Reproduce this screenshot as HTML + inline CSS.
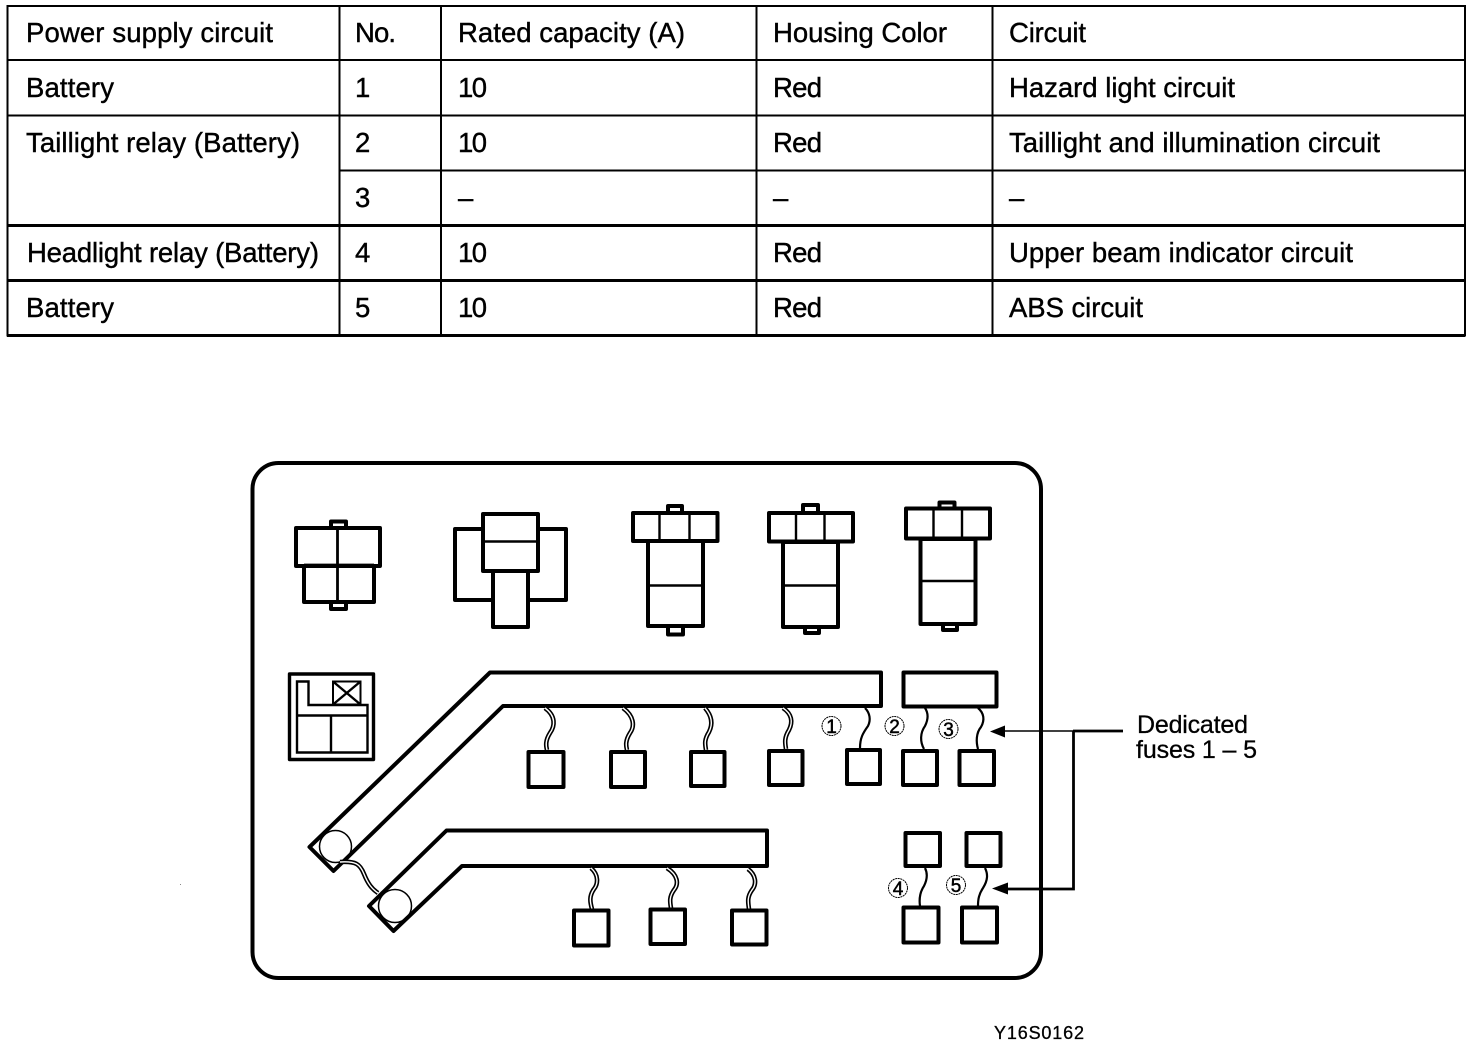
<!DOCTYPE html>
<html><head><meta charset="utf-8"><style>
html,body{margin:0;padding:0;background:#fff}
svg{display:block}
text{font-family:"Liberation Sans",Arial,sans-serif;fill:#000}
.t text{font-size:27.5px;stroke:#000;stroke-width:.4}
.k{fill:#fff;stroke:#000;stroke-width:4;stroke-linejoin:round}
.n{fill:none;stroke:#000;stroke-width:2.4}
.w1{fill:none;stroke:#000;stroke-width:2.2}
.w2{fill:none;stroke:#000;stroke-width:4.6}
.w3{fill:none;stroke:#fff;stroke-width:1.4}
.c{fill:#fff;stroke:#000;stroke-width:1;stroke-dasharray:2 .6}
.d{font-size:19px;text-anchor:middle;stroke:#000;stroke-width:.5}
</style></head><body>
<svg width="1472" height="1046" viewBox="0 0 1472 1046" xmlns="http://www.w3.org/2000/svg">
<rect width="1472" height="1046" fill="#fff"/>
<!-- table -->
<g fill="none" stroke="#000" shape-rendering="crispEdges">
<rect x="7.5" y="6" width="1457.5" height="329.5" stroke-width="2"/>
<path stroke-width="3" d="M7 335.500H1465"/>
<path stroke-width="2" d="M339.5 6V335M441 6V335M756.5 6V335M992.5 6V335M7 60H1465M7 115.5H1465M339 170.5H1465"/>
<path stroke-width="3" d="M7 225.5H1465M7 280.5H1465"/>
</g>
<g class="t">
<text x="26" y="42" textLength="247">Power supply circuit</text>
<text x="355" y="42" textLength="41">No.</text>
<text x="458" y="42" textLength="227">Rated capacity (A)</text>
<text x="773" y="42" textLength="174">Housing Color</text>
<text x="1009" y="42" textLength="77">Circuit</text>
<text x="26" y="97" textLength="88">Battery</text>
<text x="355" y="97">1</text>
<text x="458" y="97" textLength="29">10</text>
<text x="773" y="97" textLength="49">Red</text>
<text x="1009" y="97" textLength="226">Hazard light circuit</text>
<text x="26" y="152" textLength="274">Taillight relay (Battery)</text>
<text x="355" y="152">2</text>
<text x="458" y="152" textLength="29">10</text>
<text x="773" y="152" textLength="49">Red</text>
<text x="1009" y="152" textLength="371">Taillight and illumination circuit</text>
<text x="355" y="207">3</text>
<text x="458" y="207">–</text>
<text x="773" y="207">–</text>
<text x="1009" y="207">–</text>
<text x="27" y="262" textLength="292">Headlight relay (Battery)</text>
<text x="355" y="262">4</text>
<text x="458" y="262" textLength="29">10</text>
<text x="773" y="262" textLength="49">Red</text>
<text x="1009" y="262" textLength="344">Upper beam indicator circuit</text>
<text x="26" y="317" textLength="88">Battery</text>
<text x="355" y="317">5</text>
<text x="458" y="317" textLength="29">10</text>
<text x="773" y="317" textLength="49">Red</text>
<text x="1009" y="317" textLength="134">ABS circuit</text>
</g>
<!-- board -->
<rect x="252.5" y="463" width="788.5" height="515" rx="26" fill="#fff" stroke="#000" stroke-width="4"/>
<!-- relay 1 -->
<rect class="k" x="331" y="521.5" width="15" height="8"/>
<rect class="k" x="331" y="600" width="15" height="9"/>
<rect class="k" x="296" y="528" width="84" height="38"/>
<rect class="k" x="304" y="566" width="70" height="36"/>
<path class="n" style="stroke-width:2.8" d="M337.5 528V602M304 565H374"/>
<!-- relay 2 -->
<rect class="k" x="455" y="529" width="111" height="71"/>
<rect x="493" y="596" width="35" height="10" fill="#fff"/>
<rect class="k" x="493" y="570" width="35" height="57"/>
<rect class="k" x="483" y="514" width="55" height="57"/>
<path class="n" d="M483 541.5H538"/>
<!-- relay 3 -->
<rect class="k" x="668" y="506" width="14" height="8"/>
<rect class="k" x="668" y="624" width="15" height="10.5"/>
<rect class="k" x="648" y="541" width="55" height="85"/>
<rect class="k" x="633" y="513" width="84.500" height="28"/>
<path class="n" d="M659.500 513V541M689.500 513V541M648 585.500H703"/>
<!-- relay 4 -->
<rect class="k" x="803" y="505" width="15" height="8"/>
<rect class="k" x="805" y="625" width="14" height="8"/>
<rect class="k" x="783" y="542" width="55" height="85"/>
<rect class="k" x="769" y="513" width="84" height="28.500"/>
<path class="n" d="M796 513V542M824.500 513V542M783 585.500H838"/>
<!-- relay 5 -->
<rect class="k" x="939.500" y="502.500" width="15" height="7"/>
<rect class="k" x="943" y="622" width="14" height="8"/>
<rect class="k" x="920.500" y="539" width="55" height="85"/>
<rect class="k" x="906" y="508.500" width="84" height="30"/>
<path class="n" d="M933.500 508.500V539M962 508.500V539M920.500 581H975.500"/>
<!-- relay box -->
<rect class="k" x="289.500" y="674" width="84" height="85.500" style="stroke-width:3.4"/>
<path class="n" d="M297 681.500H308.500V705H367.500V752.500H297ZM297 715.500H367.500M331 715.500V752.500"/>
<rect x="333" y="681.500" width="27.500" height="23" fill="none" stroke="#000" stroke-width="2"/>
<path class="n" d="M333 681.500L360.500 704.500M360.500 681.500L333 704.500"/>
<!-- bars -->
<path class="k" d="M881 672.500H490L309.500 847L333.500 871L503 706H881Z"/>
<rect class="k" x="903.500" y="672.500" width="93" height="34"/>
<path class="k" d="M767 830.500H446.500L369 906L393.500 931L462 866H767Z"/>
<circle cx="335.500" cy="846.500" r="16" fill="none" stroke="#000" stroke-width="1.500"/>
<circle cx="395" cy="906" r="16.500" fill="none" stroke="#000" stroke-width="1.500"/>
<!-- double wires -->
<path class="w2" d="M340 862C356 861 360 864 364 874C368 884 372 889 378 893"/>
<path class="w3" d="M340 862C356 861 360 864 364 874C368 884 372 889 378 893"/>
<path class="w2" d="M545 708C556 716 555 726 550 733C545 741 546 746 547 750"/>
<path class="w3" d="M545 708C556 716 555 726 550 733C545 741 546 746 547 750"/>
<path class="w2" d="M623 708C634 716 635 726 630 733C625 741 626 746 627 750"/>
<path class="w3" d="M623 708C634 716 635 726 630 733C625 741 626 746 627 750"/>
<path class="w2" d="M705 708C712 716 713 724 709 732C704 740 705 744 706 750"/>
<path class="w3" d="M705 708C712 716 713 724 709 732C704 740 705 744 706 750"/>
<path class="w2" d="M783 708C792 714 793 722 789 730C784 738 785 743 786 749"/>
<path class="w3" d="M783 708C792 714 793 722 789 730C784 738 785 743 786 749"/>
<path class="w2" d="M591 868C599 875 598 884 594 889C589 896 590 902 592 909"/>
<path class="w3" d="M591 868C599 875 598 884 594 889C589 896 590 902 592 909"/>
<path class="w2" d="M667 868C678 875 679 884 674 890C669 897 670 902 671 908"/>
<path class="w3" d="M667 868C678 875 679 884 674 890C669 897 670 902 671 908"/>
<path class="w2" d="M748 869C756 875 757 884 752 890C747 897 748 902 749 909"/>
<path class="w3" d="M748 869C756 875 757 884 752 890C747 897 748 902 749 909"/>
<!-- single wires -->
<path class="w1" d="M865 708C870 713 871 720 868 726C863 733 860 738 860 748"/>
<path class="w1" d="M925 708C929 714 928 720 925 726C920 733 920 742 924 749"/>
<path class="w1" d="M978 708C984 713 985 720 981 727C976 733 976 742 978 749"/>
<path class="w1" d="M925 868C928 874 927 880 924 886C920 892 919 899 920 906"/>
<path class="w1" d="M985 868C988 874 988 880 983 888C979 894 978 899 978 906"/>
<!-- squares -->
<rect class="k" x="528.500" y="752" width="35" height="35"/>
<rect class="k" x="611" y="752" width="34" height="35"/>
<rect class="k" x="691" y="752" width="33.500" height="34"/>
<rect class="k" x="769" y="751" width="33.500" height="34"/>
<rect class="k" x="847" y="750" width="33" height="34"/>
<rect class="k" x="903" y="751" width="34" height="34"/>
<rect class="k" x="959.500" y="751" width="34.500" height="34"/>
<rect class="k" x="905.500" y="833" width="34.500" height="33"/>
<rect class="k" x="966.500" y="833" width="34" height="33"/>
<rect class="k" x="903.500" y="907.500" width="35" height="35"/>
<rect class="k" x="962" y="907.500" width="35" height="35"/>
<rect class="k" x="574" y="910.500" width="34.500" height="35"/>
<rect class="k" x="650.500" y="909.500" width="34.500" height="34.500"/>
<rect class="k" x="732" y="910.500" width="34.500" height="34"/>
<!-- circled numbers -->
<circle class="c" cx="831.500" cy="726" r="9.500"/><text class="d" x="831.500" y="733">1</text>
<circle class="c" cx="894.500" cy="726" r="9.500"/><text class="d" x="894.500" y="733">2</text>
<circle class="c" cx="948.500" cy="729" r="9.500"/><text class="d" x="948.500" y="736">3</text>
<circle class="c" cx="898" cy="888" r="9.500"/><text class="d" x="898" y="895">4</text>
<circle class="c" cx="956" cy="885" r="9.500"/><text class="d" x="956" y="892">5</text>
<!-- leaders -->
<path fill="none" stroke="#000" stroke-width="1.500" d="M1003 731H1073"/>
<path fill="none" stroke="#000" stroke-width="2.800" d="M1073 731H1123M1073.500 731V889H1005"/>
<path d="M990 731.500L1005 725.500V737.500Z"/>
<path d="M992 888.500L1008 882.500V894.500Z"/>
<text x="1137" y="733" font-size="25" textLength="111" stroke="#000" stroke-width=".3">Dedicated</text>
<text x="1136" y="758" font-size="25" textLength="121" stroke="#000" stroke-width=".3">fuses 1 – 5</text>
<text x="994" y="1039" font-size="18" textLength="90" stroke="#000" stroke-width=".3">Y16S0162</text>
<rect x="180" y="884" width="1" height="1" fill="#888"/>
</svg>
</body></html>
